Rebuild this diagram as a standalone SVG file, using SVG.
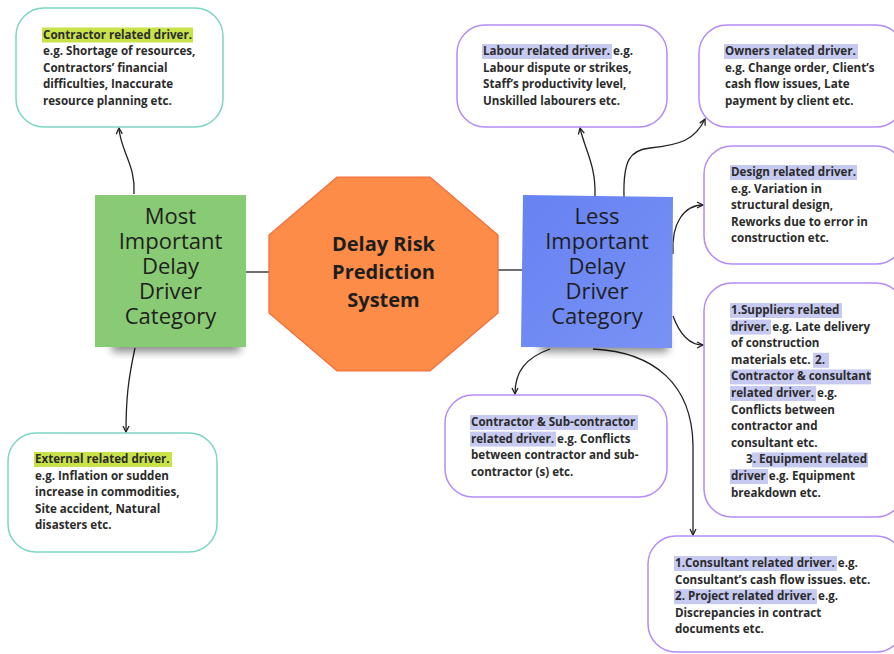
<svg xmlns="http://www.w3.org/2000/svg" width="894" height="654" viewBox="0 0 894 654">
<style>
.t{font-family:"Open Sans","DejaVu Sans",sans-serif;font-weight:700;font-size:11.6px;fill:#2b2b2b}
.big{font-family:"Open Sans","DejaVu Sans",sans-serif;font-size:22px;fill:#1e1e1e;text-anchor:middle}
.core{font-family:"Open Sans","DejaVu Sans",sans-serif;font-weight:700;font-size:20px;fill:#1e1e1e;text-anchor:middle}
.tb{fill:#fff;stroke:#7dd6c4;stroke-width:1.5}
.pb{fill:#fff;stroke:#b58cf5;stroke-width:1.5}
.hy{fill:#c8e24a}
.hp{fill:#c6caf1}
.c{fill:none;stroke:#222;stroke-width:1.3}
</style>
<defs>
<marker id="ah" viewBox="0 0 8 8" refX="7" refY="4" markerWidth="8" markerHeight="8" orient="auto" markerUnits="userSpaceOnUse">
<path d="M1,1 L7,4 L1,7" fill="none" stroke="#222" stroke-width="1.3"/>
</marker>
<filter id="sh" x="-20%" y="-50%" width="140%" height="200%"><feGaussianBlur stdDeviation="4"/></filter>
<linearGradient id="bg" x1="0" y1="0" x2="1" y2="1"><stop offset="0" stop-color="#6782f2"/><stop offset="1" stop-color="#7892f5"/></linearGradient>
</defs>
<rect width="894" height="654" fill="#fff"/>

<g id="connectors">
<path class="c" d="M246,272 L269,272"/>
<path class="c" d="M498,270 L522,270"/>
<path class="c" marker-end="url(#ah)" d="M134,194 C136,165 120,150 119,128"/>
<path class="c" marker-end="url(#ah)" d="M135,348 C128,380 126,400 126,432"/>
<path class="c" marker-end="url(#ah)" d="M595,196 C596,165 585,150 580,128"/>
<path class="c" marker-end="url(#ah)" d="M624,197 C623,160 630,150 650,148 C680,145 695,140 705,119"/>
<path class="c" marker-end="url(#ah)" d="M673,254 C671,222 685,205 703,205"/>
<path class="c" marker-end="url(#ah)" d="M673,316 C680,335 690,345 703,345"/>
<path class="c" marker-end="url(#ah)" d="M550,349 C525,358 515,372 515,394"/>
<path class="c" marker-end="url(#ah)" d="M593,349 C655,352 692,385 693,445 L693,535"/>
</g>

<g id="most-important">
<rect x="112" y="338" width="128" height="14" fill="#000" opacity="0.45" filter="url(#sh)"/>
<rect x="95" y="195" width="151" height="152" fill="#88cb74"/>
<text class="big" x="170.5"><tspan x="170.5" y="224">Most</tspan><tspan x="170.5" y="249">Important</tspan><tspan x="170.5" y="274">Delay</tspan><tspan x="170.5" y="299">Driver</tspan><tspan x="170.5" y="324">Category</tspan></text>
</g>

<g id="core">
<polygon points="337,177 430,177 498,235 498,313 430,371 337,371 269,313 269,235" fill="#fd8c48" stroke="#f26b3b" stroke-width="1.2"/>
<text class="core"><tspan x="383.5" y="251">Delay Risk</tspan><tspan x="383.5" y="279">Prediction</tspan><tspan x="383.5" y="307">System</tspan></text>
</g>

<g id="less-important">
<rect x="540" y="338" width="128" height="14" fill="#000" opacity="0.45" filter="url(#sh)"/>
<polygon points="523,195 673,197 672,348 521,347" fill="url(#bg)"/>
<text class="big"><tspan x="597" y="224">Less</tspan><tspan x="597" y="249">Important</tspan><tspan x="597" y="274">Delay</tspan><tspan x="597" y="299">Driver</tspan><tspan x="597" y="324">Category</tspan></text>
</g>

<g id="contractor">
<rect class="tb" x="16" y="8" width="207" height="119" rx="28"/>
<rect class="hy" x="42" y="27.5" width="151" height="15"/>
<text class="t"><tspan x="43" y="38.5">Contractor related driver.</tspan><tspan x="43" y="55.1">e.g. Shortage of resources,</tspan><tspan x="43" y="71.7">Contractors’ financial</tspan><tspan x="43" y="88.3">difficulties, Inaccurate</tspan><tspan x="43" y="104.9">resource planning etc.</tspan></text>
</g>

<g id="external">
<rect class="tb" x="8" y="433" width="209" height="119" rx="28"/>
<rect class="hy" x="34" y="452" width="138" height="15"/>
<text class="t"><tspan x="35" y="463">External related driver.</tspan><tspan x="35" y="479.6">e.g. Inflation or sudden</tspan><tspan x="35" y="496.2">increase in commodities,</tspan><tspan x="35" y="512.8">Site accident, Natural</tspan><tspan x="35" y="529.4">disasters etc.</tspan></text>
</g>

<g id="labour">
<rect class="pb" x="457" y="25" width="210" height="102" rx="28"/>
<rect class="hp" x="482" y="44" width="130" height="15"/>
<text class="t"><tspan x="483" y="55">Labour related driver. e.g.</tspan><tspan x="483" y="71.6">Labour dispute or strikes,</tspan><tspan x="483" y="88.2">Staff’s productivity level,</tspan><tspan x="483" y="104.8">Unskilled labourers etc.</tspan></text>
</g>

<g id="owners">
<rect class="pb" x="699" y="25" width="205" height="102" rx="28"/>
<rect class="hp" x="724" y="44" width="134" height="15"/>
<text class="t"><tspan x="725" y="55">Owners related driver.</tspan><tspan x="725" y="71.6">e.g. Change order, Client’s</tspan><tspan x="725" y="88.2">cash flow issues, Late</tspan><tspan x="725" y="104.8">payment by client etc.</tspan></text>
</g>

<g id="design">
<rect class="pb" x="704" y="146" width="200" height="118" rx="28"/>
<rect class="hp" x="730" y="165" width="127" height="15"/>
<text class="t"><tspan x="731" y="176">Design related driver.</tspan><tspan x="731" y="192.6">e.g. Variation in</tspan><tspan x="731" y="209.2">structural design,</tspan><tspan x="731" y="225.8">Reworks due to error in</tspan><tspan x="731" y="242.4">construction etc.</tspan></text>
</g>

<g id="suppliers">
<rect class="pb" x="704" y="283" width="200" height="234" rx="28"/>
<rect class="hp" x="730" y="303" width="112" height="15"/>
<rect class="hp" x="730" y="319.6" width="41" height="15"/>
<rect class="hp" x="813" y="352.8" width="16" height="15"/>
<rect class="hp" x="730" y="369.4" width="141" height="15"/>
<rect class="hp" x="730" y="386" width="86" height="15"/>
<rect class="hp" x="752" y="452.4" width="116" height="15"/>
<rect class="hp" x="730" y="469" width="38" height="15"/>
<text class="t"><tspan x="731" y="314">1.Suppliers related</tspan><tspan x="731" y="330.6">driver. e.g. Late delivery</tspan><tspan x="731" y="347.2">of construction</tspan><tspan x="731" y="363.8">materials etc.</tspan><tspan x="815" y="363.8">2.</tspan><tspan x="731" y="380.4">Contractor &amp; consultant</tspan><tspan x="731" y="397">related driver. e.g.</tspan><tspan x="731" y="413.6">Conflicts between</tspan><tspan x="731" y="430.2">contractor and</tspan><tspan x="731" y="446.8">consultant etc.</tspan><tspan x="746" y="463.4">3. Equipment related</tspan><tspan x="731" y="480">driver e.g. Equipment</tspan><tspan x="731" y="496.6">breakdown etc.</tspan></text>
</g>

<g id="consultant">
<rect class="pb" x="648" y="536" width="256" height="116" rx="28"/>
<rect class="hp" x="674" y="556" width="163" height="15"/>
<rect class="hp" x="674" y="589.2" width="143" height="15"/>
<text class="t"><tspan x="675" y="567">1.Consultant related driver. e.g.</tspan><tspan x="675" y="583.6">Consultant’s cash flow issues. etc.</tspan><tspan x="675" y="600.2">2. Project related driver. e.g.</tspan><tspan x="675" y="616.8">Discrepancies in contract</tspan><tspan x="675" y="633.4">documents etc.</tspan></text>
</g>

<g id="contractor-sub">
<rect class="pb" x="445" y="395" width="222" height="102" rx="28"/>
<rect class="hp" x="470" y="415" width="168" height="15"/>
<rect class="hp" x="470" y="431.6" width="86" height="15"/>
<text class="t"><tspan x="471" y="426">Contractor &amp; Sub-contractor</tspan><tspan x="471" y="442.6">related driver. e.g. Conflicts</tspan><tspan x="471" y="459.2">between contractor and sub-</tspan><tspan x="471" y="475.8">contractor (s) etc.</tspan></text>
</g>
</svg>
